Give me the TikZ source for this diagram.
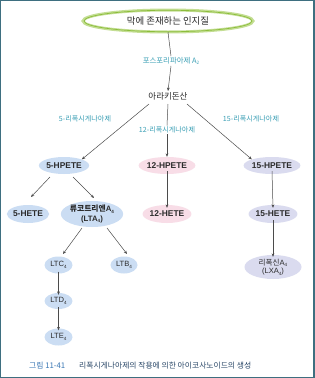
\documentclass[tikz,border=0pt]{standalone}
\usepackage{fontspec}
\setmainfont{Liberation Sans}
\newfontfamily\kr{Noto Sans CJK KR}
\usetikzlibrary{shapes.geometric,arrows.meta}
\definecolor{frame}{HTML}{3E6F80}
\definecolor{teal}{HTML}{3A9FB5}
\definecolor{bluef}{HTML}{CBDDF3}
\definecolor{pinkf}{HTML}{F8DDE7}
\definecolor{lavf}{HTML}{DADBEF}
\definecolor{greenl}{HTML}{C4DE94}
\definecolor{greend}{HTML}{8CBD3C}
\definecolor{txt}{HTML}{2B2B2B}
\definecolor{capblue}{HTML}{3B78B5}
\definecolor{capdark}{HTML}{2D4A6A}
\newcommand\lo[1]{\raisebox{-0.35ex}{\fontsize{4.6}{5}\selectfont #1}}
\tikzset{
  blob/.style={ellipse, inner sep=0pt, text=txt, font=\fontsize{8.4}{9.5}\selectfont\bfseries, align=center},
  bl/.style={blob, fill=bluef},
  pk/.style={blob, fill=pinkf},
  lv/.style={blob, fill=lavf},
  small/.style={font=\fontsize{7.6}{8.6}\selectfont},
  enz/.style={text=teal, font=\kr\fontsize{7.1}{7.5}\selectfont, inner sep=1pt},
  arr/.style={draw=txt!85, line width=0.5pt, -{Stealth[length=3.4pt,width=2.8pt]}},
  ln/.style={draw=txt!85, line width=0.5pt}
}
\begin{document}
\begin{tikzpicture}[x=1pt,y=-1pt]
\useasboundingbox (0,0) rectangle (315,378);
\fill[white] (0,0) rectangle (315,378);
\draw[frame, line width=1.2pt] (0.6,0.6) rectangle (313.8,377.4);
\draw[frame, line width=2.4pt] (313.8,0) -- (313.8,378);
% top ellipse
\node[ellipse, minimum width=170pt, minimum height=22pt, draw=greenl, line width=3pt, fill=white] (mem) at (168,21) {};
\node[ellipse, minimum width=168pt, minimum height=20pt, draw=greend, line width=0.7pt, text=txt, font=\kr\fontsize{9.4}{10}\selectfont] (memt) at (168,21) {막에 존재하는 인지질};
\node[text=txt, font=\kr\fontsize{8.5}{9}\selectfont, inner sep=1pt] (ara) at (168,96) {아라키돈산};
\node[enz, fill=white, font=\kr\fontsize{7.4}{8}\selectfont] (pla) at (171,61) {포스포리파아제 A\lo{2}};
\draw[ln] (memt.south) -- (pla.north);
\draw[arr] (pla.south) -- (ara.north);
% enzymes
\coordinate (aL) at (149,104);
\coordinate (aC) at (168,104);
\coordinate (aR) at (187,104);
\node[enz] (e5) at (85,119) {5-리폭시게나아제};
\node[enz, fill=white] (e12) at (167,130) {12-리폭시게나아제};
\node[enz] (e15) at (251,119) {15-리폭시게나아제};
% row 1
\node[bl, minimum width=50pt, minimum height=17pt] (h5) at (64,165.5) {5-HPETE};
\node[pk, minimum width=48pt, minimum height=17pt] (h12) at (167,165.5) {12-HPETE};
\node[lv, minimum width=46pt, minimum height=17pt] (h15) at (272,165.5) {15-HPETE};
\draw[arr] (aL) -- (h5.north east);
\draw[ln] (aC) -- (e12.north);
\draw[arr] (e12.south) -- (h12.north);
\draw[arr] (aR) -- (h15.north west);
% row 2
\node[bl, minimum width=37pt, minimum height=18pt] (t5) at (28,214) {5-HETE};
\node[bl, minimum width=52pt, minimum height=26pt, font=\fontsize{7.8}{9.5}\selectfont\bfseries] (lta) at (92,214) {{\kr 류코트리엔}A\lo{4}\\(LTA\lo{4})};
\node[pk, minimum width=42pt, minimum height=18pt] (t12) at (167,214) {12-HETE};
\node[lv, minimum width=42pt, minimum height=18pt] (t15) at (273,214) {15-HETE};
\coordinate (h5a) at (50,177);
\coordinate (h5b) at (73,177);
\coordinate (t5a) at (31,197);
\coordinate (ltaa) at (94,198);
\draw[arr] (h5a) -- (t5a);
\draw[arr] (h5b) -- (ltaa);
\draw[arr] ([yshift=3pt]h12.south) -- ([yshift=-3pt]t12.north);
\draw[arr] ([yshift=3pt]h15.south) -- ([yshift=-3pt]t15.north);
% row 3
\node[bl, small, minimum width=28pt, minimum height=17pt] (ltc) at (58.5,265) {LTC\lo{4}};
\node[bl, small, minimum width=27pt, minimum height=17pt] (ltb) at (124,265) {LTB\lo{4}};
\node[lv, small, minimum width=57pt, minimum height=24pt] (lxa) at (273,267) {{\kr 리폭신}A\lo{4}\\(LXA\lo{4})};
\node[bl, small, minimum width=28pt, minimum height=16pt] (ltd) at (58.5,301) {LTD\lo{4}};
\node[bl, small, minimum width=28pt, minimum height=17pt] (lte) at (58.5,337) {LTE\lo{4}};
\coordinate (ltA1) at (82,228);
\coordinate (ltA2) at (107,228);
\coordinate (ltcn) at (63,254);
\coordinate (ltbn) at (127,254);
\draw[arr] (ltA1) -- (ltcn);
\draw[arr] (ltA2) -- (ltbn);
\draw[arr] ([yshift=3pt]t15.south) -- ([yshift=-2pt]lxa.north);
\draw[arr] ([yshift=2pt]ltc.south) -- ([yshift=-2pt]ltd.north);
\draw[arr] ([yshift=2pt]ltd.south) -- ([yshift=-2pt]lte.north);
% caption
\node[anchor=west, inner sep=0pt, text=capblue, font=\kr\fontsize{7.8}{8}\selectfont] (capn) at (29,366) {그림 11-41};
\node[anchor=west, inner sep=0pt, text=capdark, font=\kr\fontsize{7.8}{8}\selectfont] (capt) at (79,366) {리폭시게나아제의 작용에 의한 아이코사노이드의 생성};
\end{tikzpicture}
\end{document}
